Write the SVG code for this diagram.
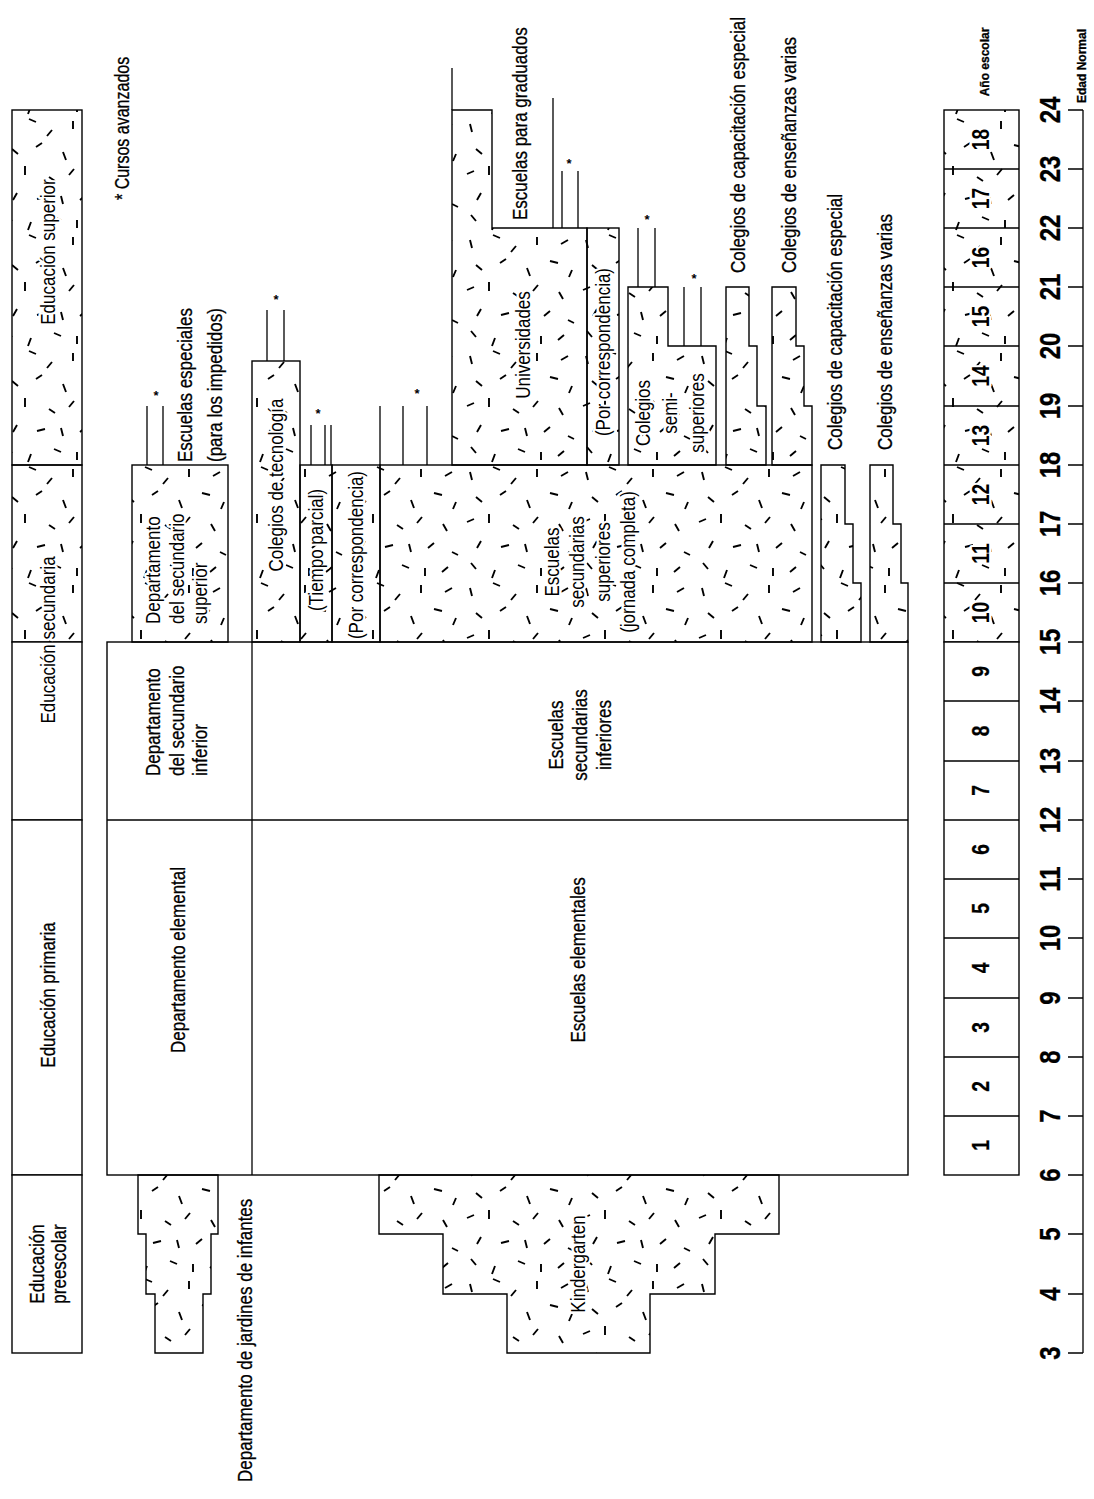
<svg xmlns="http://www.w3.org/2000/svg" width="1094" height="1499" viewBox="0 0 1094 1499">
<defs>
<pattern id="h" width="116" height="116" patternUnits="userSpaceOnUse">
<path d="M6,8 l2,8 M29,3 l7,3 M52,14 l-5,6 M73,5 l0,8 M97,12 l7,-4 M12,33 l6,5 M42,27 l-6,4 M63,36 l3,8 M86,29 l8,2 M108,38 l-3,7 M3,58 l7,-3 M25,50 l0,9 M49,61 l6,4 M74,53 l-5,6 M95,60 l4,7 M17,77 l-4,7 M37,83 l8,-2 M61,80 l2,8 M86,79 l-6,5 M104,88 l6,3 M7,99 l5,6 M31,106 l-3,8 M54,101 l7,3 M77,104 l0,8 M100,103 l-6,5" stroke="#000" stroke-width="1.9" fill="none"/>
</pattern>
<style>
.b{fill:#fff;stroke:#000;stroke-width:1.4}
.hb{fill:url(#h);stroke:#000;stroke-width:1.4}
.ln{stroke:#000;stroke-width:1.3;fill:none}
.t{font-family:"Liberation Sans",Arial,sans-serif;font-size:20px;fill:#000;stroke:#000;stroke-width:.3;dominant-baseline:central}
.hl{stroke:#fff;stroke-width:5;paint-order:stroke;stroke-linejoin:round}
.m{text-anchor:middle}
.s{text-anchor:start}
.n{font-weight:bold;font-size:24px}
.a{font-weight:bold;font-size:30px}
.k{font-size:12px;font-weight:bold}
.st{font-family:"Liberation Sans",Arial,sans-serif;font-size:13px;font-weight:bold;text-anchor:middle}
</style>
</defs>
<rect x="0" y="0" width="1094" height="1499" fill="#fff"/>

<g id="categories">
<rect class="hb" x="12" y="110" width="70" height="355"/>
<rect class="hb" x="12" y="465" width="70" height="177"/>
<rect class="b" x="12" y="642" width="70" height="178"/>
<rect class="b" x="12" y="820" width="70" height="355"/>
<rect class="b" x="12" y="1175" width="70" height="178"/>
<text class="t m hl" transform="translate(48,252) rotate(-90) scale(.85,1)">Educación superior</text>
<text class="t m hl" transform="translate(48,640) rotate(-90) scale(.85,1)">Educación secundaria</text>
<text class="t m" transform="translate(48,995) rotate(-90) scale(.85,1)">Educación primaria</text>
<text class="t m" transform="translate(37,1264) rotate(-90) scale(.85,1)">Educación</text>
<text class="t m" transform="translate(59,1264) rotate(-90) scale(.85,1)">preescolar</text>
</g>

<g id="nota">
<text class="t s" transform="translate(122,200) rotate(-90) scale(.8,1)">* Cursos avanzados</text>
</g>

<g id="escuelas-base">
<rect class="b" x="107" y="642" width="801" height="533"/>
<line class="ln" x1="107" y1="820" x2="908" y2="820"/>
<line class="ln" x1="252" y1="642" x2="252" y2="1175"/>
<text class="t s" transform="translate(153,776) rotate(-90) scale(.85,1)">Departamento</text>
<text class="t s" transform="translate(177,776) rotate(-90) scale(.85,1)">del secundario</text>
<text class="t s" transform="translate(200,776) rotate(-90) scale(.85,1)">inferior</text>
<text class="t m" transform="translate(178,960) rotate(-90) scale(.85,1)">Departamento elemental</text>
<text class="t m" transform="translate(556,735) rotate(-90) scale(.85,1)">Escuelas</text>
<text class="t m" transform="translate(580,735) rotate(-90) scale(.85,1)">secundarias</text>
<text class="t m" transform="translate(604,735) rotate(-90) scale(.85,1)">inferiores</text>
<text class="t m" transform="translate(578,960) rotate(-90) scale(.85,1)">Escuelas elementales</text>
</g>

<g id="dep-sec-superior">
<rect class="hb" x="132" y="465" width="96" height="177"/>
<text class="t s hl" transform="translate(153,624) rotate(-90) scale(.85,1)">Departamento</text>
<text class="t s hl" transform="translate(177,624) rotate(-90) scale(.85,1)">del secundario</text>
<text class="t s hl" transform="translate(200,624) rotate(-90) scale(.85,1)">superior</text>
<text class="t s" transform="translate(185,462) rotate(-90) scale(.85,1)">Escuelas especiales</text>
<text class="t s" transform="translate(215,462) rotate(-90) scale(.85,1)">(para los impedidos)</text>
</g>

<g id="tecnologia">
<rect class="hb" x="252" y="361" width="48" height="281"/>
<text class="t m hl" transform="translate(276,485) rotate(-90) scale(.85,1)">Colegios de tecnología</text>
</g>

<g id="tiempo-parcial">
<rect class="hb" x="300" y="465" width="32" height="177"/>
<text class="t m hl" transform="translate(316,550) rotate(-90) scale(.85,1)">(Tiempo parcial)</text>
</g>

<g id="correspondencia-sec">
<rect class="hb" x="332" y="465" width="48" height="177"/>
<text class="t m hl" transform="translate(356,555) rotate(-90) scale(.85,1)">(Por correspondencia)</text>
</g>

<g id="sec-superiores">
<rect class="hb" x="380" y="465" width="432" height="177"/>
<text class="t m hl" transform="translate(552,562) rotate(-90) scale(.85,1)">Escuelas</text>
<text class="t m hl" transform="translate(577,562) rotate(-90) scale(.85,1)">secundarias</text>
<text class="t m hl" transform="translate(603,562) rotate(-90) scale(.85,1)">superiores</text>
<text class="t m hl" transform="translate(628,562) rotate(-90) scale(.85,1)">(jornada completa)</text>
</g>

<g id="universidades">
<path class="hb" d="M452,465 V110 H492 V228 H587 V465 Z"/>
<text class="t m hl" transform="translate(523,345) rotate(-90) scale(.85,1)">Universidades</text>
<text class="t s" transform="translate(520,220) rotate(-90) scale(.85,1)">Escuelas para graduados</text>
</g>

<g id="correspondencia-univ">
<rect class="hb" x="587" y="228" width="32" height="237"/>
<text class="t m hl" transform="translate(603,352) rotate(-90) scale(.85,1)">(Por correspondencia)</text>
</g>

<g id="semi-superiores">
<path class="hb" d="M628,465 V287 H668 V346 H716 V465 Z"/>
<text class="t m hl" transform="translate(643,413) rotate(-90) scale(.85,1)">Colegios</text>
<text class="t m hl" transform="translate(670,413) rotate(-90) scale(.85,1)">semi-</text>
<text class="t m hl" transform="translate(697,413) rotate(-90) scale(.85,1)">superiores</text>
</g>

<g id="capacitacion-sup">
<path class="hb" d="M726,465 V287 H749 V346 H757 V406 H766 V465 Z"/>
<text class="t s" transform="translate(738,273) rotate(-90) scale(.85,1)">Colegios de capacitación especial</text>
</g>

<g id="ensenanzas-sup">
<path class="hb" d="M772,465 V287 H796 V346 H804 V406 H812 V465 Z"/>
<text class="t s" transform="translate(789,273) rotate(-90) scale(.85,1)">Colegios de enseñanzas varias</text>
</g>

<g id="capacitacion-sec">
<path class="hb" d="M821,642 V465 H845 V524 H853 V583 H861 V642 Z"/>
<text class="t s" transform="translate(835,450) rotate(-90) scale(.85,1)">Colegios de capacitación especial</text>
</g>

<g id="ensenanzas-sec">
<path class="hb" d="M870,642 V465 H893 V524 H901 V583 H908 V642 Z"/>
<text class="t s" transform="translate(885,450) rotate(-90) scale(.85,1)">Colegios de enseñanzas varias</text>
</g>

<g id="jardines">
<path class="hb" d="M138,1175 H218 V1234 H211 V1294 H203 V1353 H155 V1294 H146 V1234 H138 Z"/>
<text class="t s" transform="translate(245,1482) rotate(-90) scale(.85,1)">Departamento de jardines de infantes</text>
</g>

<g id="kindergarten">
<path class="hb" d="M379,1175 H779 V1234 H715 V1294 H650 V1353 H507 V1294 H443 V1234 H379 Z"/>
<text class="t m hl" transform="translate(578,1264) rotate(-90) scale(.85,1)">Kindergarten</text>
</g>

<g id="connectors">
<line class="ln" x1="147" y1="406" x2="147" y2="465"/>
<line class="ln" x1="163" y1="406" x2="163" y2="465"/>
<line class="ln" x1="267" y1="310" x2="267" y2="361"/>
<line class="ln" x1="284" y1="310" x2="284" y2="361"/>
<line class="ln" x1="311" y1="425" x2="311" y2="465"/>
<line class="ln" x1="325" y1="425" x2="325" y2="465"/>
<line class="ln" x1="331" y1="425" x2="331" y2="465"/>
<line class="ln" x1="380" y1="406" x2="380" y2="465"/>
<line class="ln" x1="403" y1="406" x2="403" y2="465"/>
<line class="ln" x1="427" y1="406" x2="427" y2="465"/>
<line class="ln" x1="452" y1="68" x2="452" y2="110"/>
<line class="ln" x1="553" y1="98" x2="553" y2="228"/>
<line class="ln" x1="562" y1="171" x2="562" y2="228"/>
<line class="ln" x1="578" y1="171" x2="578" y2="228"/>
<line class="ln" x1="638" y1="228" x2="638" y2="287"/>
<line class="ln" x1="655" y1="228" x2="655" y2="287"/>
<line class="ln" x1="684" y1="287" x2="684" y2="346"/>
<line class="ln" x1="701" y1="287" x2="701" y2="346"/>
<text class="st" x="156" y="400">*</text>
<text class="st" x="276" y="304">*</text>
<text class="st" x="318" y="418">*</text>
<text class="st" x="417" y="398">*</text>
<text class="st" x="569" y="168">*</text>
<text class="st" x="647" y="224">*</text>
<text class="st" x="694" y="283">*</text>
</g>

<g id="anio-escolar">
<rect class="hb" x="944" y="110" width="75" height="532"/>
<rect class="b" x="944" y="642" width="75" height="533"/>
<path class="ln" d="M944,169 H1019 M944,228 H1019 M944,287 H1019 M944,346 H1019 M944,406 H1019 M944,465 H1019 M944,524 H1019 M944,583 H1019 M944,701 H1019 M944,761 H1019 M944,820 H1019 M944,879 H1019 M944,938 H1019 M944,998 H1019 M944,1057 H1019 M944,1116 H1019"/>
<text class="t m n" transform="translate(981,1145.5) rotate(-90) scale(.8,1)">1</text>
<text class="t m n" transform="translate(981,1086.5) rotate(-90) scale(.8,1)">2</text>
<text class="t m n" transform="translate(981,1027.5) rotate(-90) scale(.8,1)">3</text>
<text class="t m n" transform="translate(981,968) rotate(-90) scale(.8,1)">4</text>
<text class="t m n" transform="translate(981,908.5) rotate(-90) scale(.8,1)">5</text>
<text class="t m n" transform="translate(981,849.5) rotate(-90) scale(.8,1)">6</text>
<text class="t m n" transform="translate(981,790.5) rotate(-90) scale(.8,1)">7</text>
<text class="t m n" transform="translate(981,731) rotate(-90) scale(.8,1)">8</text>
<text class="t m n" transform="translate(981,671.5) rotate(-90) scale(.8,1)">9</text>
<text class="t m n hl" transform="translate(981,612.5) rotate(-90) scale(.8,1)">10</text>
<text class="t m n hl" transform="translate(981,553.5) rotate(-90) scale(.8,1)">11</text>
<text class="t m n hl" transform="translate(981,494.5) rotate(-90) scale(.8,1)">12</text>
<text class="t m n hl" transform="translate(981,435.5) rotate(-90) scale(.8,1)">13</text>
<text class="t m n hl" transform="translate(981,376) rotate(-90) scale(.8,1)">14</text>
<text class="t m n hl" transform="translate(981,316.5) rotate(-90) scale(.8,1)">15</text>
<text class="t m n hl" transform="translate(981,257.5) rotate(-90) scale(.8,1)">16</text>
<text class="t m n hl" transform="translate(981,198.5) rotate(-90) scale(.8,1)">17</text>
<text class="t m n hl" transform="translate(981,139.5) rotate(-90) scale(.8,1)">18</text>
<text class="t m k" transform="translate(985,62) rotate(-90)">Año escolar</text>
</g>

<g id="edad-normal">
<path class="ln" d="M1083,110 V1353 M1068,110 H1083 M1068,169 H1083 M1068,228 H1083 M1068,287 H1083 M1068,346 H1083 M1068,406 H1083 M1068,465 H1083 M1068,524 H1083 M1068,583 H1083 M1068,642 H1083 M1068,701 H1083 M1068,761 H1083 M1068,820 H1083 M1068,879 H1083 M1068,938 H1083 M1068,998 H1083 M1068,1057 H1083 M1068,1116 H1083 M1068,1175 H1083 M1068,1234 H1083 M1068,1294 H1083 M1068,1353 H1083"/>
<text class="t m a" transform="translate(1050,110) rotate(-90) scale(.8,1)">24</text>
<text class="t m a" transform="translate(1050,169) rotate(-90) scale(.8,1)">23</text>
<text class="t m a" transform="translate(1050,228) rotate(-90) scale(.8,1)">22</text>
<text class="t m a" transform="translate(1050,287) rotate(-90) scale(.8,1)">21</text>
<text class="t m a" transform="translate(1050,346) rotate(-90) scale(.8,1)">20</text>
<text class="t m a" transform="translate(1050,406) rotate(-90) scale(.8,1)">19</text>
<text class="t m a" transform="translate(1050,465) rotate(-90) scale(.8,1)">18</text>
<text class="t m a" transform="translate(1050,524) rotate(-90) scale(.8,1)">17</text>
<text class="t m a" transform="translate(1050,583) rotate(-90) scale(.8,1)">16</text>
<text class="t m a" transform="translate(1050,642) rotate(-90) scale(.8,1)">15</text>
<text class="t m a" transform="translate(1050,701) rotate(-90) scale(.8,1)">14</text>
<text class="t m a" transform="translate(1050,761) rotate(-90) scale(.8,1)">13</text>
<text class="t m a" transform="translate(1050,820) rotate(-90) scale(.8,1)">12</text>
<text class="t m a" transform="translate(1050,879) rotate(-90) scale(.8,1)">11</text>
<text class="t m a" transform="translate(1050,938) rotate(-90) scale(.8,1)">10</text>
<text class="t m a" transform="translate(1050,998) rotate(-90) scale(.8,1)">9</text>
<text class="t m a" transform="translate(1050,1057) rotate(-90) scale(.8,1)">8</text>
<text class="t m a" transform="translate(1050,1116) rotate(-90) scale(.8,1)">7</text>
<text class="t m a" transform="translate(1050,1175) rotate(-90) scale(.8,1)">6</text>
<text class="t m a" transform="translate(1050,1234) rotate(-90) scale(.8,1)">5</text>
<text class="t m a" transform="translate(1050,1294) rotate(-90) scale(.8,1)">4</text>
<text class="t m a" transform="translate(1050,1353) rotate(-90) scale(.8,1)">3</text>
<text class="t m k" transform="translate(1082,66) rotate(-90)">Edad Normal</text>
</g>
</svg>
